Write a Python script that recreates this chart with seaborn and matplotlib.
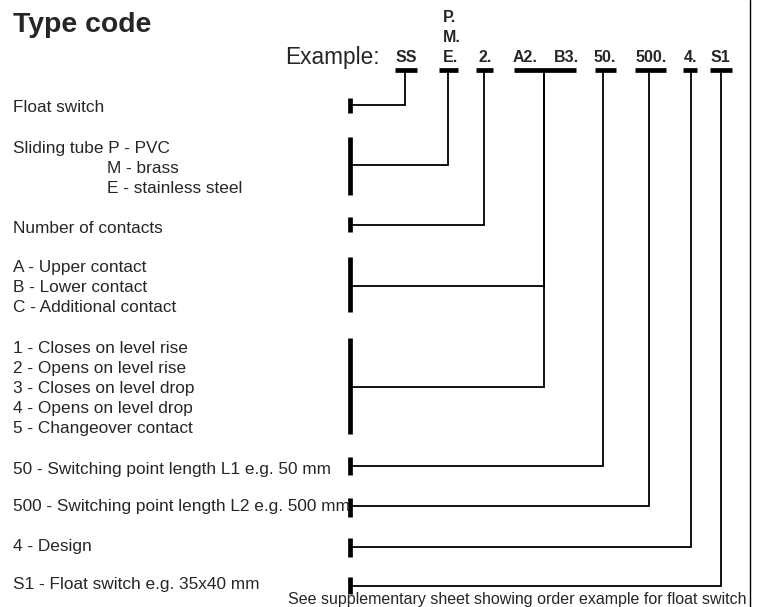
import pandas as pd
import matplotlib
matplotlib.use("Agg")
import matplotlib.pyplot as plt
import seaborn as sns

# Type code items (left to right along the example code)
codes = ["SS", "E.", "2.", "A2.", "B3.", "50.", "500.", "4.", "S1"]
stacked_codes = ["P.", "M."]  # drawn above "E."

# Description blocks (top to bottom) and the code bar each one leads to
descriptions = [
    ["Float switch"],
    ["Sliding tube P - PVC", "M - brass", "E - stainless steel"],
    ["Number of contacts"],
    ["A - Upper contact", "B - Lower contact", "C - Additional contact"],
    ["1 - Closes on level rise", "2 - Opens on level rise", "3 - Closes on level drop",
     "4 - Opens on level drop", "5 - Changeover contact"],
    ["50 - Switching point length L1 e.g. 50 mm"],
    ["500 - Switching point length L2 e.g. 500 mm"],
    ["4 - Design"],
    ["S1 - Float switch e.g. 35x40 mm"],
]
target_bar = [0, 1, 2, 3, 3, 4, 5, 6, 7]

title = "Type code"
example_label = "Example:"
footer = "See supplementary sheet showing order example for float switch"

# ---- layout (pixel coordinates, y downwards) ----
code_x = [406, 443, 485, 525, 566, 605, 651, 690, 720]
bar_left = [395, 439, 476, 514, 595, 635, 683, 710]
bar_right = [417, 458, 493, 576, 616, 666, 697, 732]
bar_stem = [405, 448, 484, 544, 603, 649, 691, 721]
block_top = [98, 137, 217, 257, 338, 457, 498, 538, 577]
block_bot = [113, 195, 232, 312, 434, 475, 517, 557, 594]
block_link = [105, 165, 225, 286, 387, 466, 506, 547, 586]
block_text = [112, 153, 233, 272, 353, 474, 511, 551, 589]
line_gap = 20
left_x = 349.5
bar_y = 70

sns.set_style("white")
plt.rcParams["font.family"] = ["Liberation Sans", "DejaVu Sans"]

fig = plt.figure(figsize=(7.6, 6.07), dpi=100)
ax = fig.add_axes([0, 0, 1, 1])

# thick bars: under the code letters and beside the description blocks
thick = []
for i, (l, r) in enumerate(zip(bar_left, bar_right)):
    thick += [{"x": l, "y": bar_y, "seg": f"c{i}"}, {"x": r, "y": bar_y, "seg": f"c{i}"}]
for i, (t, b) in enumerate(zip(block_top, block_bot)):
    thick += [{"x": left_x, "y": t, "seg": f"b{i}"}, {"x": left_x, "y": b, "seg": f"b{i}"}]
thick = pd.DataFrame(thick)
sns.lineplot(data=thick, x="x", y="y", units="seg", estimator=None, sort=False,
             color="black", linewidth=3.4, solid_capstyle="butt", ax=ax, legend=False)

# thin connectors: block -> across -> up to code bar
links = []
for i, (yl, tb) in enumerate(zip(block_link, target_bar)):
    xs = bar_stem[tb]
    links += [{"x": left_x, "y": yl, "seg": i}, {"x": xs, "y": yl, "seg": i},
              {"x": xs, "y": bar_y, "seg": i}]
links = pd.DataFrame(links)
sns.lineplot(data=links, x="x", y="y", units="seg", estimator=None, sort=False,
             color="black", linewidth=1.3, solid_capstyle="butt",
             solid_joinstyle="miter", ax=ax, legend=False)

# right frame line
ax.plot([750, 750], [0, 607], color="black", linewidth=1.0)

# texts
ax.text(13, 32, title, fontsize=20.4, fontweight="bold", ha="left", va="baseline")
ax.text(380, 64, example_label, fontsize=16.3, ha="right", va="baseline")
for i, c in enumerate(codes):
    ha = "left" if c == "E." else "center"
    ax.text(code_x[i], 62, c, fontsize=11.5, fontweight="bold", ha=ha, va="baseline")
for j, c in enumerate(stacked_codes):
    ax.text(code_x[1], 22 + j * line_gap, c, fontsize=11.5, fontweight="bold",
            ha="left", va="baseline")

for lines, yb in zip(descriptions, block_text):
    for k, t in enumerate(lines):
        x = 13
        if lines[0].startswith("Sliding") and k > 0:
            x = 107
        ax.text(x, yb + k * line_gap, t, fontsize=12.4, ha="left", va="baseline")

ax.text(288, 604, footer, fontsize=11.5, ha="left", va="baseline")

ax.set_xlim(0, 760)
ax.set_ylim(607, 0)
ax.set_axis_off()

fig.savefig("out.png", dpi=100)
